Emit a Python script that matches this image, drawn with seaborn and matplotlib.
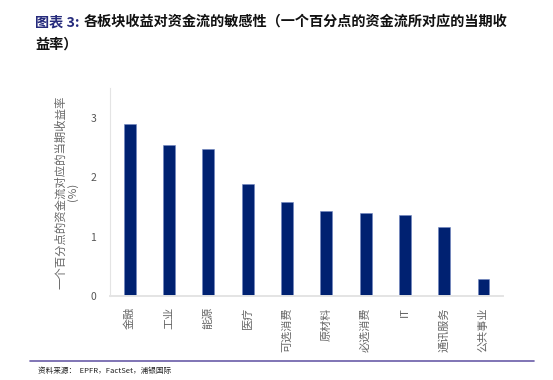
import matplotlib
matplotlib.use('Agg')
import matplotlib.pyplot as plt
import pandas as pd
import seaborn as sns
from matplotlib.lines import Line2D

# sector sensitivity to fund flows (% return per 1% of flow)
sectors = ['金融', '工业', '能源', '医疗', '可选消费', '原材料', '必选消费', 'IT', '通讯服务', '公共事业']
sensitivity = [2.90, 2.54, 2.47, 1.89, 1.58, 1.44, 1.40, 1.37, 1.16, 0.29]
y_ticks = [0, 1, 2, 3]

frame = pd.DataFrame({'sector': sectors, 'value': sensitivity})

sns.set_style('white')
plt.rcParams['font.family'] = ['Noto Sans CJK SC', 'DejaVu Sans']

fig = plt.figure(figsize=(5.53, 3.8), dpi=100)
ax = fig.add_axes([0.199, 0.221, 0.711, 0.547])

sns.barplot(data=frame, x='sector', y='value', color='#002171', saturation=1,
            width=0.3, edgecolor='#6F86C0', linewidth=0.4, ax=ax)

ax.set_ylim(0, 3.5)
ax.set_xlim(-0.5, len(sectors) - 0.5)
ax.set_yticks(y_ticks)
ax.tick_params(axis='y', labelsize=7.5, labelcolor='#555555', length=0, pad=10)
ax.tick_params(axis='x', labelsize=8, labelcolor='#666666', length=0, pad=8)
ax.set_xticks(range(len(sectors)))
ax.set_xticklabels(sectors, rotation=90, va='top', ha='center')
ax.set_xlabel('')
ax.set_ylabel('一个百分点的资金流对应的当期收益率\n(%)', fontsize=8.2, color='#666666',
              linespacing=1.1, labelpad=9)

for side in ['top', 'right']:
    ax.spines[side].set_visible(False)
ax.spines['left'].set_color('#E4E4E4')
ax.spines['left'].set_linewidth(0.8)
ax.spines['bottom'].set_color('#E4E4E4')
ax.spines['bottom'].set_linewidth(1.4)

# title
fig.text(0.064, 0.942, '图表 3:', fontsize=10.2, fontweight='bold', color='#262B7C', va='center')
fig.text(0.152, 0.942, '各板块收益对资金流的敏感性（一个百分点的资金流所对应的当期收',
         fontsize=10.2, fontweight='bold', color='#111111', va='center')
fig.text(0.064, 0.884, '益率）', fontsize=10.2, fontweight='bold', color='#111111', va='center')

# footer
fig.add_artist(Line2D([0.054, 0.965], [0.05, 0.05], color='#6A5CA8', linewidth=1.2,
                      transform=fig.transFigure))
fig.text(0.068, 0.024, '资料来源：  EPFR，FactSet，浦银国际', fontsize=5.5, color='#222222', va='center')

fig.savefig('out.png', dpi=100)
